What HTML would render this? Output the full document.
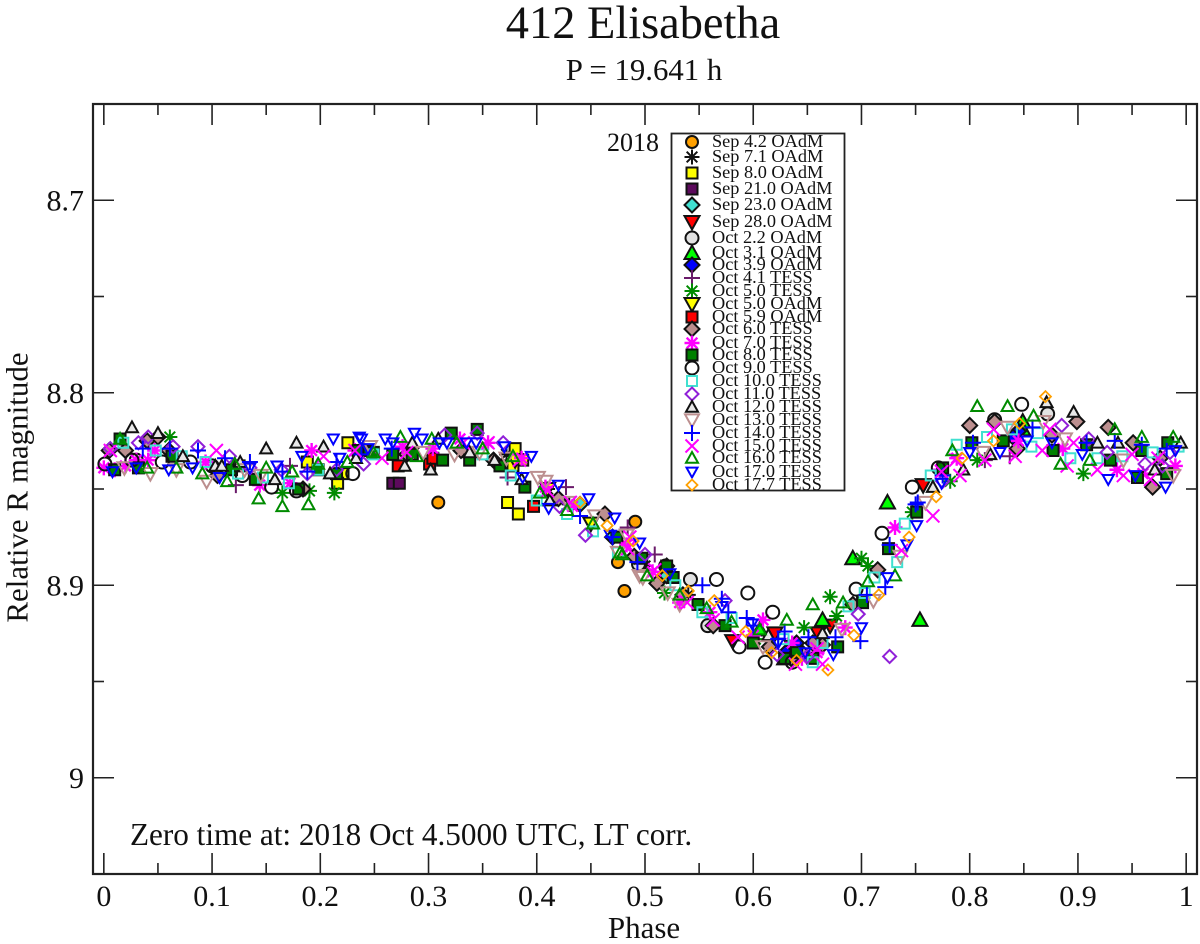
<!DOCTYPE html>
<html lang="en">
<head>
<meta charset="utf-8">
<title>412 Elisabetha</title>
<style>
html,body{margin:0;padding:0;background:#fff;}
svg{display:block;font-family:"Liberation Serif",serif;fill:#111;}
</style>
</head>
<body>
<svg id="chart" width="1200" height="944" viewBox="0 0 1200 944" xmlns="http://www.w3.org/2000/svg">
<text x="643" y="38" font-size="46.4" text-anchor="middle">412 Elisabetha</text>
<text x="644" y="80" font-size="30.8" text-anchor="middle">P = 19.641 h</text>
<text x="0" y="0" font-size="31" text-anchor="middle" transform="translate(27.5,487.5) rotate(-90)">Relative R magnitude</text>
<text x="644" y="938" font-size="31" text-anchor="middle">Phase</text>
<text x="130" y="845" font-size="31.2">Zero time at: 2018 Oct 4.5000 UTC, LT corr.</text>
<g id="marks"></g>
<g id="axes"></g>
<text x="607" y="151" font-size="26">2018</text>
<g id="legend"></g>
</svg>
<script>
const xTicks = [0,0.1,0.2,0.3,0.4,0.5,0.6,0.7,0.8,0.9,1];
const xTickLabels = ["0","0.1","0.2","0.3","0.4","0.5","0.6","0.7","0.8","0.9","1"];
const xMinorTicks = [0.05,0.15,0.25,0.35,0.45,0.55,0.65,0.75,0.85,0.95];
const yTicks = [8.7,8.8,8.9,9];
const yTickLabels = ["8.7","8.8","8.9","9"];
const yMinorTicks = [8.65,8.75,8.85,8.95,9.05];

const phaseSep42 = [.309,.481,.475,.491];
const magSep42 = [8.857,8.903,8.888,8.867];
const phaseSep71 = [.372,.41,.43,.5,.54];
const magSep71 = [8.832,8.85,8.858,8.89,8.905];
const phaseSep80 = [.373,.383,.2255,.221,.216,.188,.38,.387,.378];
const magSep80 = [8.857,8.863,8.826,8.842,8.847,8.836,8.829,8.835,8.838];
const phaseSep210 = [.267,.273];
const magSep210 = [8.847,8.847];
const phaseSep230 = [.44,.47,.52];
const magSep230 = [8.858,8.875,8.895];
const phaseSep280 = [.671,.66,.757,.581,.636,.62];
const magSep280 = [8.921,8.925,8.848,8.929,8.932,8.925];
const phaseOct22 = [.519,.542,.494,.558,.823,.872,.03,.1];
const magOct22 = [8.89,8.897,8.889,8.921,8.814,8.811,8.835,8.838];
const phaseOct31 = [.724,.754,.692,.664,.629,.606,.849,.849];
const magOct31 = [8.857,8.918,8.886,8.918,8.938,8.923,8.815,8.819];
const phaseOct39 = [.845,.63,.52,.64,.84];
const magOct39 = [8.82,8.935,8.89,8.93,8.823];
const phaseOct41 = [.122,.172,.373,.427,.484,.509,.837,.814];
const magOct41 = [8.848,8.838,8.844,8.849,8.87,8.884,8.833,8.835];
const phaseOct50T = [.061,.165,.19,.213,.671,.677,.647,.7,.706,.747,.518,.602,.905,.807,.782];
const magOct50T = [8.823,8.852,8.851,8.852,8.906,8.916,8.922,8.886,8.89,8.862,8.904,8.928,8.842,8.835,8.846];
const phaseOct50O = [.38,.41,.45];
const magOct50O = [8.835,8.85,8.868];
const phaseOct59 = [.301,.272,.304,.397];
const magOct59 = [8.837,8.838,8.834,8.859];
const phaseOct60 = [.715,.8,.823,.899,.928,.969,.844,.951,.876,.976,.04,.105,.005,.184,.463,.615,.563,.511,.692,.664,.02,.05,.06,.28,.33,.36,.42,.49,.535,.645,.635,.655];
const magOct60 = [8.892,8.817,8.815,8.815,8.818,8.849,8.829,8.826,8.822,8.834,8.825,8.843,8.83,8.85,8.863,8.932,8.921,8.899,8.91,8.931,8.83,8.823,8.83,8.832,8.83,8.835,8.855,8.885,8.905,8.935,8.938,8.93];
const phaseOct70 = [0,.041,.047,.094,.144,.172,.192,.232,.276,.304,.329,.355,.386,.408,.433,.483,.609,.636,.685,.731,.507,.532,.56,.659,.773,.788,.936,.99,.886,.96,.01,.02,.03,.845,.645,.6];
const magOct70 = [8.839,8.835,8.83,8.836,8.848,8.847,8.83,8.83,8.828,8.829,8.824,8.826,8.834,8.849,8.859,8.879,8.918,8.93,8.922,8.87,8.893,8.909,8.914,8.935,8.84,8.834,8.84,8.838,8.829,8.842,8.84,8.838,8.835,8.825,8.938,8.926];
const phaseOct80 = [.01,.032,.063,.118,.125,.14,.18,.198,.215,.235,.245,.285,.321,.345,.338,.313,.267,.249,.366,.389,.474,.497,.526,.549,.574,.629,.678,.701,.725,.751,.775,.802,.831,.877,.908,.93,.955,.959,.982,.983,.015,.64,.655,.6,.52];
const magOct80 = [8.84,8.839,8.833,8.84,8.838,8.845,8.85,8.84,8.842,8.83,8.83,8.832,8.821,8.819,8.835,8.835,8.832,8.831,8.838,8.849,8.875,8.886,8.896,8.91,8.921,8.938,8.932,8.909,8.881,8.862,8.839,8.826,8.825,8.83,8.827,8.835,8.844,8.83,8.842,8.826,8.824,8.935,8.938,8.93,8.89];
const phaseOct90 = [.566,.595,.618,.611,.695,.719,.747,.587,.848,.771,.001,.026,.054,.155,.178,.23,.08,.128,.636];
const magOct90 = [8.897,8.904,8.914,8.94,8.902,8.873,8.849,8.932,8.806,8.839,8.837,8.835,8.836,8.849,8.851,8.842,8.836,8.843,8.94];
const phaseOct100 = [.018,.048,.072,.094,.124,.147,.171,.198,.249,.35,.376,.4,.428,.452,.475,.528,.553,.58,.628,.655,.664,.688,.703,.712,.733,.74,.764,.788,.816,.839,.863,.857,.893,.918,.941,.969,.993];
const magOct100 = [8.826,8.83,8.833,8.836,8.842,8.844,8.847,8.84,8.832,8.832,8.843,8.856,8.863,8.872,8.883,8.9,8.914,8.917,8.928,8.94,8.93,8.911,8.904,8.896,8.888,8.868,8.843,8.827,8.823,8.819,8.821,8.828,8.834,8.834,8.833,8.831,8.828];
const phaseOct110 = [.006,.032,.041,.064,.087,.116,.135,.164,.188,.215,.24,.315,.345,.369,.445,.421,.5,.574,.622,.65,.697,.726,.885,.91,.927,.962,.978,.985,.775];
const magOct110 = [8.829,8.826,8.823,8.828,8.828,8.833,8.839,8.84,8.842,8.84,8.837,8.822,8.821,8.826,8.874,8.859,8.884,8.908,8.936,8.937,8.915,8.937,8.817,8.824,8.831,8.837,8.838,8.831,8.846];
const phaseOct120 = [.026,.05,.073,.103,.109,.126,.15,.178,.203,.158,.209,.233,.278,.302,.285,.309,.338,.361,.386,.412,.614,.664,.766,.794,.819,.871,.896,.918,.937,.971,.995];
const magOct120 = [8.818,8.821,8.833,8.838,8.838,8.836,8.829,8.826,8.828,8.845,8.842,8.834,8.838,8.84,8.826,8.824,8.831,8.835,8.845,8.856,8.926,8.925,8.849,8.84,8.832,8.805,8.81,8.826,8.826,8.84,8.826];
const phaseOct130 = [.019,.043,.067,.095,.13,.145,.324,.295,.246,.347,.372,.401,.408,.429,.454,.475,.483,.495,.498,.521,.532,.609,.682,.711,.736,.759,.812,.835,.868,.888,.942,.988];
const magOct130 = [8.839,8.842,8.84,8.846,8.84,8.843,8.832,8.831,8.828,8.831,8.834,8.844,8.846,8.857,8.864,8.883,8.874,8.895,8.896,8.904,8.91,8.932,8.923,8.908,8.885,8.857,8.831,8.818,8.815,8.824,8.835,8.843];
const phaseOct140 = [.036,.061,.087,.112,.135,.165,.188,.215,.238,.266,.44,.47,.493,.553,.571,.577,.594,.6,.629,.623,.651,.676,.699,.705,.722,.726,.75,.752,.775,.803,.858,.908,.934,.959,.982];
const magOct140 = [8.829,8.829,8.83,8.834,8.836,8.841,8.841,8.836,8.832,8.829,8.864,8.875,8.888,8.9,8.907,8.914,8.917,8.921,8.924,8.928,8.927,8.927,8.929,8.905,8.901,8.879,8.858,8.857,8.843,8.826,8.818,8.826,8.825,8.827,8.829];
const phaseOct150 = [.006,.104,.232,.203,.257,.28,.332,.355,.384,.41,.431,.486,.484,.509,.539,.563,.586,.639,.664,.659,.737,.766,.791,.774,.787,.814,.822,.842,.867,.874,.89,.918,.942,.95,.967,.974,.896];
const magOct150 = [8.83,8.83,8.83,8.833,8.834,8.831,8.826,8.826,8.835,8.851,8.857,8.875,8.881,8.892,8.909,8.918,8.927,8.941,8.941,8.933,8.882,8.864,8.843,8.841,8.835,8.835,8.819,8.833,8.83,8.819,8.838,8.84,8.843,8.832,8.845,8.834,8.826];
const phaseOct160 = [.143,.165,.189,.015,.04,.067,.091,.114,.121,.15,.174,.198,.225,.274,.249,.303,.289,.326,.35,.378,.403,.428,.452,.477,.502,.479,.532,.557,.58,.606,.631,.655,.683,.706,.731,.807,.835,.859,.784,.934,.959,.988,.884,.911];
const magOct160 = [8.855,8.859,8.858,8.824,8.839,8.839,8.842,8.846,8.837,8.839,8.841,8.837,8.836,8.823,8.831,8.824,8.833,8.826,8.829,8.833,8.852,8.861,8.868,8.883,8.895,8.884,8.905,8.912,8.919,8.923,8.918,8.91,8.909,8.898,8.895,8.807,8.807,8.812,8.83,8.819,8.823,8.823,8.837,8.835];
const phaseOct170 = [.212,.236,.183,.16,.135,.107,.082,.06,.03,.008,.218,.26,.287,.317,.335,.344,.238,.244,.267,.294,.31,.37,.395,.387,.411,.42,.448,.472,.468,.495,.523,.571,.599,.623,.648,.674,.7,.724,.751,.742,.8,.774,.828,.853,.876,.904,.928,.953,.981,.99];
const magOct170 = [8.824,8.823,8.833,8.838,8.839,8.844,8.839,8.84,8.839,8.841,8.834,8.824,8.821,8.826,8.826,8.826,8.824,8.829,8.826,8.824,8.826,8.828,8.833,8.844,8.86,8.848,8.855,8.865,8.874,8.878,8.894,8.911,8.92,8.93,8.935,8.936,8.922,8.896,8.869,8.879,8.831,8.847,8.831,8.825,8.826,8.832,8.845,8.843,8.849,8.83];
const phaseOct177 = [.44,.465,.489,.516,.54,.564,.593,.617,.64,.669,.693,.716,.744,.769,.793,.822,.846,.87];
const magOct177 = [8.857,8.869,8.877,8.895,8.903,8.908,8.924,8.935,8.939,8.944,8.926,8.905,8.875,8.854,8.834,8.825,8.816,8.802];

const seriesLabels = ["Sep 4.2 OAdM","Sep 7.1 OAdM","Sep 8.0 OAdM","Sep 21.0 OAdM","Sep 23.0 OAdM","Sep 28.0 OAdM","Oct 2.2 OAdM","Oct 3.1 OAdM","Oct 3.9 OAdM","Oct 4.1 TESS","Oct 5.0 TESS","Oct 5.0 OAdM","Oct 5.9 OAdM","Oct 6.0 TESS","Oct 7.0 TESS","Oct 8.0 TESS","Oct 9.0 TESS","Oct 10.0 TESS","Oct 11.0 TESS","Oct 12.0 TESS","Oct 13.0 TESS","Oct 14.0 TESS","Oct 15.0 TESS","Oct 16.0 TESS","Oct 17.0 TESS","Oct 17.7 TESS"];
const seriesPhases = [phaseSep42,phaseSep71,phaseSep80,phaseSep210,phaseSep230,phaseSep280,phaseOct22,phaseOct31,phaseOct39,phaseOct41,phaseOct50T,phaseOct50O,phaseOct59,phaseOct60,phaseOct70,phaseOct80,phaseOct90,phaseOct100,phaseOct110,phaseOct120,phaseOct130,phaseOct140,phaseOct150,phaseOct160,phaseOct170,phaseOct177];
const seriesMags = [magSep42,magSep71,magSep80,magSep210,magSep230,magSep280,magOct22,magOct31,magOct39,magOct41,magOct50T,magOct50O,magOct59,magOct60,magOct70,magOct80,magOct90,magOct100,magOct110,magOct120,magOct130,magOct140,magOct150,magOct160,magOct170,magOct177];

/* marker styles, separate from the data */
const markerShapes = ["circle","star","square","square","diamond","down","circle","up","diamond","plus","star","down","square","diamond","star","square","circle","square","diamond","up","down","plus","cross","up","down","diamond"];
const markerSizes = [6,7.5,5.5,5.5,7.5,7.5,6.5,7.5,7.5,8,7.5,7.5,5.5,7.5,7.5,5.5,6.5,5,6.5,6,7,8,6.5,6,5.5,5.5];
const markerFills = ["#ffa000","none","#ffff00","#5c0a5c","#40e0d0","#ff0000","#e2e2e2","#00ff00","#0000ff","none","none","#ffff00","#ff0000","#bc8f8f","none","#008000","none","none","none","#e8e8e8","none","none","none","none","none","none"];
const markerStrokes = ["#111","#111","#111","#111","#111","#111","#111","#111","#111","#6a1a6a","#008b00","#111","#111","#111","#ff00ff","#111","#111","#40e0d0","#9020d8","#111","#bc8f8f","#0000ff","#ff00ff","#008b00","#0000ff","#ffa000"];
const markerWidths = [2,2,2,2,2,2,2,2,2,2,2,2,2,2,2.4,2,2,2,2,2,2,2,2,2,2,1.8];
const legendRows = [142,157,173,189,205,222,238,253,265,278,291,304,317,329,343,355,368,381,394,407,420,433,446,458,472,485];

const SVGNS = "http://www.w3.org/2000/svg";
const X0 = 93, X1 = 1197, Y0 = 104, Y1 = 874;
const PHASE_MIN = -0.01, PHASE_MAX = 1.01, MAG_MIN = 8.65, MAG_MAX = 9.05;
function xScale(p){ return X0 + (p - PHASE_MIN) / (PHASE_MAX - PHASE_MIN) * (X1 - X0); }
function yScale(m){ return Y0 + (m - MAG_MIN) / (MAG_MAX - MAG_MIN) * (Y1 - Y0); }

function markerPath(shape, x, y, s){
  const f = n => n.toFixed(2);
  if (shape === "square") return "M"+f(x-s)+" "+f(y-s)+"H"+f(x+s)+"V"+f(y+s)+"H"+f(x-s)+"Z";
  if (shape === "diamond") return "M"+f(x)+" "+f(y-s)+"L"+f(x+s)+" "+f(y)+"L"+f(x)+" "+f(y+s)+"L"+f(x-s)+" "+f(y)+"Z";
  if (shape === "up") return "M"+f(x)+" "+f(y-s)+"L"+f(x+s)+" "+f(y+s*0.8)+"H"+f(x-s)+"Z";
  if (shape === "down") return "M"+f(x)+" "+f(y+s)+"L"+f(x+s)+" "+f(y-s*0.8)+"H"+f(x-s)+"Z";
  if (shape === "plus") return "M"+f(x-s)+" "+f(y)+"H"+f(x+s)+"M"+f(x)+" "+f(y-s)+"V"+f(y+s);
  if (shape === "cross") return "M"+f(x-s)+" "+f(y-s)+"L"+f(x+s)+" "+f(y+s)+"M"+f(x-s)+" "+f(y+s)+"L"+f(x+s)+" "+f(y-s);
  if (shape === "star") {
    const d = s * 0.71;
    return "M"+f(x-s)+" "+f(y)+"H"+f(x+s)+"M"+f(x)+" "+f(y-s)+"V"+f(y+s)+"M"+f(x-d)+" "+f(y-d)+"L"+f(x+d)+" "+f(y+d)+"M"+f(x-d)+" "+f(y+d)+"L"+f(x+d)+" "+f(y-d);
  }
  return "M"+f(x-s)+" "+f(y)+"A"+s+" "+s+" 0 1 0 "+f(x+s)+" "+f(y)+"A"+s+" "+s+" 0 1 0 "+f(x-s)+" "+f(y)+"Z";
}

function makeMarker(i, x, y){
  const el = document.createElementNS(SVGNS, "path");
  el.setAttribute("d", markerPath(markerShapes[i], x, y, markerSizes[i]));
  el.setAttribute("fill", markerFills[i]);
  el.setAttribute("stroke", markerStrokes[i]);
  el.setAttribute("stroke-width", markerWidths[i]);
  return el;
}

function makeLine(parent, x1, y1, x2, y2, w){
  const el = document.createElementNS(SVGNS, "line");
  el.setAttribute("x1", x1);
  el.setAttribute("y1", y1);
  el.setAttribute("x2", x2);
  el.setAttribute("y2", y2);
  el.setAttribute("stroke", "#222");
  el.setAttribute("stroke-width", w);
  
  
  parent.appendChild(el);
}

function makeText(parent, x, y, str, size, anchor){
  const el = document.createElementNS(SVGNS, "text");
  el.setAttribute("x", x);
  el.setAttribute("y", y);
  el.setAttribute("font-size", size);
  el.setAttribute("text-anchor", anchor);
  
  
  el.textContent = str;
  parent.appendChild(el);
  return el;
}

const marksGroup = document.getElementById("marks");
seriesPhases.forEach(function(phases, i){
  const g = document.createElementNS(SVGNS, "g");
  
  
  phases.forEach(function(p, j){
    const el = makeMarker(i, xScale(p), yScale(seriesMags[i][j]));
    
    
    g.appendChild(el);
  });
  marksGroup.appendChild(g);
});

const axes = document.getElementById("axes");
const frame = document.createElementNS(SVGNS, "rect");
frame.setAttribute("x", X0);
frame.setAttribute("y", Y0);
frame.setAttribute("width", X1 - X0);
frame.setAttribute("height", Y1 - Y0);
frame.setAttribute("fill", "none");
frame.setAttribute("stroke", "#222");
frame.setAttribute("stroke-width", 2.2);


axes.appendChild(frame);

xTicks.forEach(function(v, i){
  const x = xScale(v);
  makeLine(axes, x, Y1, x, Y1 - 21, 1.6);
  makeLine(axes, x, Y0, x, Y0 + 21, 1.6);
  makeText(axes, x, 906, xTickLabels[i], 30, "middle");
});
xMinorTicks.forEach(function(v){
  const x = xScale(v);
  makeLine(axes, x, Y1, x, Y1 - 11, 1.6);
  makeLine(axes, x, Y0, x, Y0 + 11, 1.6);
});
yTicks.forEach(function(v, i){
  const y = yScale(v);
  makeLine(axes, X0, y, X0 + 21, y, 1.6);
  makeLine(axes, X1, y, X1 - 21, y, 1.6);
  makeText(axes, 84, y + 10, yTickLabels[i], 30, "end");
});
yMinorTicks.forEach(function(v){
  const y = yScale(v);
  makeLine(axes, X0, y, X0 + 11, y, 1.6);
  makeLine(axes, X1, y, X1 - 11, y, 1.6);
});

const legend = document.getElementById("legend");
const legendBox = document.createElementNS(SVGNS, "rect");
legendBox.setAttribute("x", 671.5);
legendBox.setAttribute("y", 133.5);
legendBox.setAttribute("width", 173);
legendBox.setAttribute("height", 357);
legendBox.setAttribute("fill", "#fff");
legendBox.setAttribute("stroke", "#222");
legendBox.setAttribute("stroke-width", 1.8);


legend.appendChild(legendBox);
seriesLabels.forEach(function(label, i){
  const y = legendRows[i];
  const el = makeMarker(i, 692, y);
  
  
  legend.appendChild(el);
  const t = document.createElementNS(SVGNS, "text");
  t.setAttribute("x", 712);
  t.setAttribute("y", y + 5);
  t.setAttribute("font-size", 18.3);
  
  
  t.textContent = label;
  legend.appendChild(t);
});
</script>
</body>
</html>
